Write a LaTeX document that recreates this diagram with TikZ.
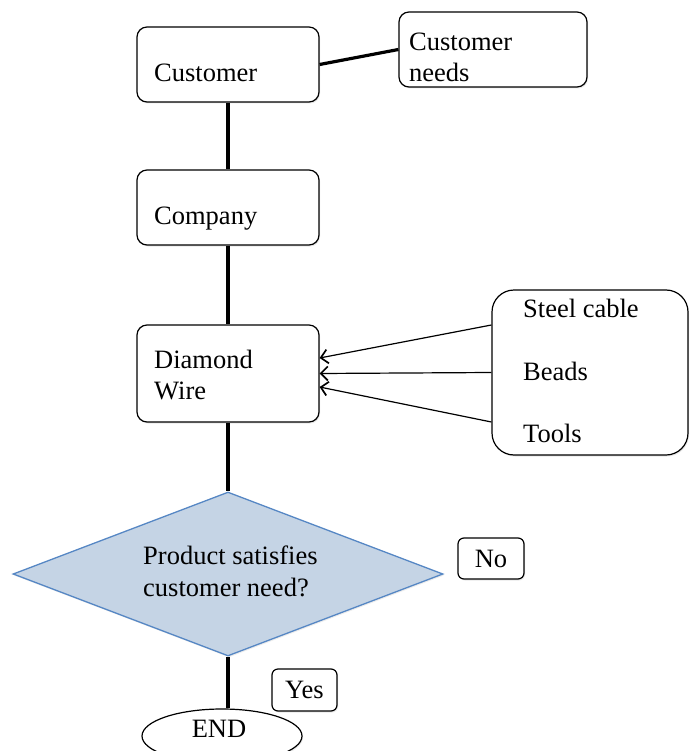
\documentclass[tikz,border=0pt]{standalone}
\usepackage{fontspec}
\setmainfont{Liberation Serif}
\usetikzlibrary{arrows.meta,shapes.geometric,shadows}
\definecolor{dfill}{RGB}{197,212,229}
\definecolor{dline}{RGB}{86,135,196}
\begin{document}
\begin{tikzpicture}[x=1pt,y=-1pt,
  box/.style={draw,line width=1.2pt,rounded corners=10pt,fill=white,inner sep=0pt,
    drop shadow={opacity=0.18,shadow xshift=1pt,shadow yshift=-1.5pt}},
  txt/.style={anchor=base west,inner sep=0pt,font=\fontsize{26.5}{31}\selectfont},
  conn/.style={line width=3.2pt},
  arr/.style={line width=1.2pt,-{Straight Barb[length=7pt,width=14pt,line width=1.7pt]}}]
\useasboundingbox (0,0) rectangle (690,751);
\clip (0,0) rectangle (690,751);

% boxes
\node[box,minimum width=182pt,minimum height=75pt] (cust) at (228,64.5) {};
\node[box,minimum width=188pt,minimum height=75pt] (needs) at (493,49.5) {};
\node[box,minimum width=182pt,minimum height=75pt] (comp) at (228,207.5) {};
\node[box,minimum width=182pt,minimum height=97pt] (dw) at (228,373.5) {};
\node[box,rounded corners=22pt,minimum width=196pt,minimum height=165pt] (src) at (590,372.5) {};
\node[diamond,draw=dline,fill=dfill,line width=1.3pt,inner sep=0pt,
  minimum width=430pt,minimum height=164pt,
  drop shadow={opacity=0.15,shadow xshift=1pt,shadow yshift=-1.5pt}] (dia) at (228,574) {};
\node[box,rounded corners=6pt,minimum width=66pt,minimum height=41pt,font=\fontsize{26.5}{31}\selectfont] (no) at (491,558.5) {No};
\node[box,rounded corners=6pt,minimum width=65pt,minimum height=42pt,font=\fontsize{26.5}{31}\selectfont] (yes) at (304.5,690) {Yes};
\node[ellipse,draw,line width=1.2pt,fill=white,inner sep=0pt,minimum width=160pt,minimum height=54pt,
  drop shadow={opacity=0.18,shadow xshift=1pt,shadow yshift=-1.5pt}] (end) at (222,736) {};

% texts
\node[txt] (tcust) at (154,82) {Customer};
\node[txt] (tneeds1) at (409,51) {Customer};
\node[txt] (tneeds2) at (409,82) {needs};
\node[txt] (tcomp) at (154,225) {Company};
\node[txt] (tdw1) at (154,368) {Diamond};
\node[txt] (tdw2) at (154,399) {Wire};
\node[txt] (ts1) at (523,317) {Steel cable};
\node[txt] (ts2) at (523,380) {Beads};
\node[txt] (ts3) at (523,442) {Tools};
\node[txt] (tq1) at (143,564) {Product satisfies};
\node[txt] (tq2) at (143,596) {customer need?};
\node[txt,anchor=base] (tend) at (219,737) {END};

% connectors
\draw[conn] (cust.east) -- (needs.west);
\draw[conn] (cust.south) -- (comp.north);
\draw[conn] (comp.south) -- (dw.north);
\draw[conn] (dw.south) -- (dia.north);
\draw[conn] (dia.south) -- (dia.south |- end.north);

\draw[arr] (src.west |- 0,325) -- (dw.east |- 0,358);
\draw[arr] (src.west) -- (dw.east);
\draw[arr] (src.west |- 0,422) -- (dw.east |- 0,387);
\end{tikzpicture}
\end{document}
